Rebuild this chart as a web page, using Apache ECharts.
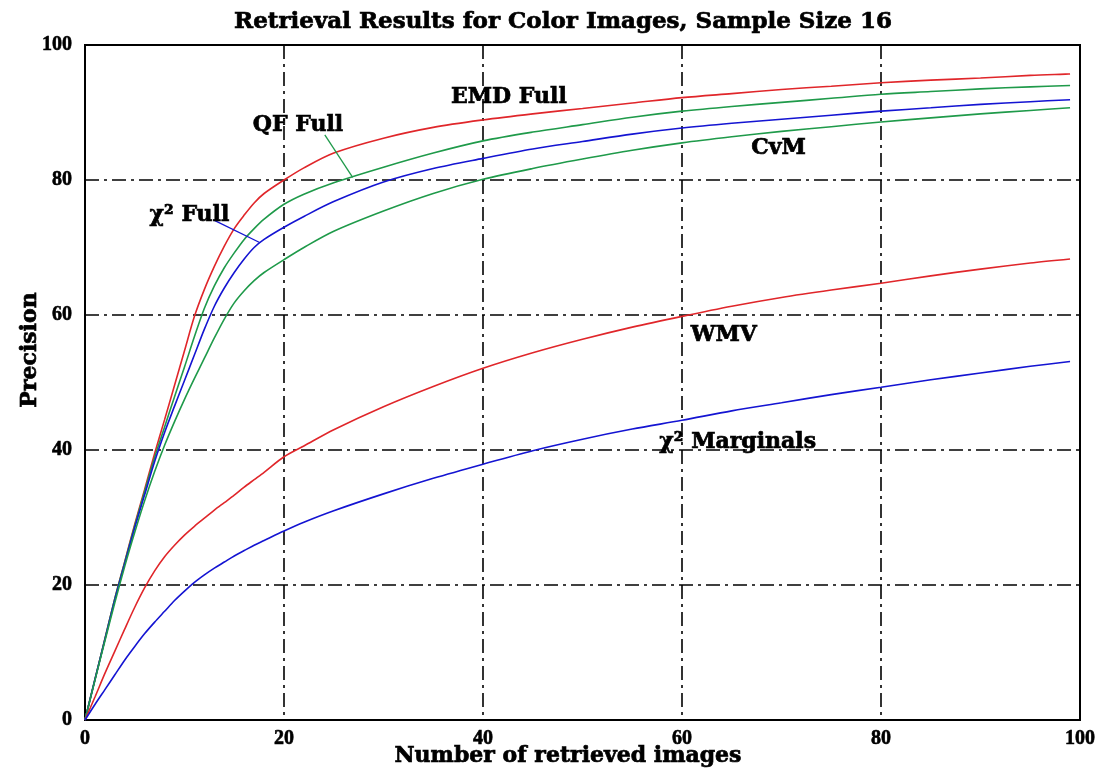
<!DOCTYPE html>
<html>
<head>
<meta charset="utf-8">
<script src="https://cdn.jsdelivr.net/npm/echarts@6/dist/echarts.min.js"></script>
<style>
  html, body { margin: 0; padding: 0; background: #fff; }
  #chart { width: 1104px; height: 779px; }
</style>
</head>
<body>
<div id="chart"></div>
<script>
// Number of retrieved images (x) shared by all curves
const retrieved = [0,1,2,3,4,5,6,7,8,9,10,11,12,13,14,15,16,17,18,20,22,25,30,35,40,45,50,55,60,65,70,75,80,85,90,95,99];

// Precision values per method
const emdFull = [0,6,12,18,23.5,29,34.2,39.5,44.5,49.6,54.7,59.8,63.8,67.2,70.2,72.8,74.8,76.6,78,80,81.8,84,86.2,87.8,88.9,89.8,90.6,91.4,92.2,92.8,93.4,93.9,94.4,94.8,95.1,95.5,95.7];
const qfFull  = [0,6,12,18,23.4,28.8,33.9,38.9,43.4,47.9,52.3,56.8,61,64.3,67,69.2,71.2,72.8,74.2,76.4,77.9,79.6,81.9,84,85.8,87.1,88.2,89.3,90.2,90.9,91.5,92.1,92.7,93.1,93.5,93.8,94];
const chiFull = [0,6,11.9,17.8,23.2,28.5,33.4,38.3,42.6,46.5,50.3,54.1,57.9,61.3,64,66.3,68.3,70,71.2,73,74.6,76.8,79.7,81.7,83.2,84.6,85.7,86.8,87.7,88.4,89,89.6,90.2,90.7,91.2,91.6,91.9];
const cvm     = [0,5.9,11.7,17.4,22.8,27.8,32.5,36.8,40.7,44.2,47.5,50.6,53.6,56.6,59.4,61.8,63.6,65.1,66.3,68.2,70,72.4,75.4,78,80.1,81.7,83.1,84.4,85.5,86.4,87.2,87.9,88.6,89.2,89.8,90.3,90.7];
const wmv     = [0,3.4,6.9,10.2,13.5,16.7,19.6,22.1,24.2,25.9,27.4,28.7,29.9,31.1,32.2,33.3,34.5,35.6,36.7,39,40.6,43,46.4,49.4,52.1,54.4,56.4,58.2,59.8,61.3,62.6,63.7,64.7,65.8,66.8,67.7,68.3];
const chiMarg = [0,2.3,4.5,6.7,8.9,10.9,12.8,14.5,16.1,17.7,19.1,20.4,21.5,22.5,23.4,24.3,25.1,25.9,26.6,28,29.3,31,33.5,35.8,37.9,39.9,41.6,43.1,44.4,45.8,47,48.2,49.3,50.4,51.4,52.4,53.1];

// Tick values
const xTicks = [0,20,40,60,80,100];
const yTicks = [0,20,40,60,80,100];

// Curve names written on the plot, anchored in data coordinates
const curveLabels = [
  { text: 'EMD Full',      at: [42.6, 92.3] },
  { text: 'QF Full',       at: [21.4, 88.1] },
  { text: 'χ² Full',       at: [10.5, 74.8] },
  { text: 'CvM',           at: [69.7, 84.7] },
  { text: 'WMV',           at: [64.2, 57.0] },
  { text: 'χ² Marginals',  at: [65.6, 41.2] }
];
// Leader lines from labels to curves (data coordinates)
const leaderQF  = [[24.1, 86.7], [26.9, 80.4]];
const leaderChi = [[12.9, 74.1], [17.6, 70.7]];

const RED = '#e0262a', GREEN = '#1f9a4a', BLUE = '#1414d2';
const SERIF = '"Liberation Serif", "DejaVu Serif", serif';
const WIDE = '"DejaVu Serif", "Liberation Serif", serif';

function pairs(ys) { return retrieved.map((x, i) => [x, ys[i]]); }

const chart = echarts.init(document.getElementById('chart'), null, { renderer: 'canvas' });

function lineSeries(name, ys, color, leader) {
  const s = {
    name, type: 'line', data: pairs(ys), showSymbol: false, smooth: 0.3,
    lineStyle: { color, width: 1.6 }, itemStyle: { color }, z: 3, animation: false
  };
  if (leader) {
    s.markLine = {
      symbol: ['none', 'none'], silent: true, animation: false,
      label: { show: false },
      lineStyle: { color, width: 1.3, type: 'solid' },
      data: [[{ coord: leader[0] }, { coord: leader[1] }]]
    };
  }
  return s;
}

const gridDash = [14, 5, 3, 5];
const tickLabel = {
  fontFamily: SERIF, fontWeight: 'bold', fontSize: 20, color: '#000',
  textBorderColor: '#000', textBorderWidth: 0.6
};

chart.setOption({
  animation: false,
  backgroundColor: '#fff',
  grid: {
    left: 85, right: 24, top: 45, bottom: 59,
    show: true, borderColor: '#000', borderWidth: 2
  },
  xAxis: {
    type: 'value', min: 0, max: 100, interval: 20,
    axisLine: { lineStyle: { color: '#000', width: 2 } },
    axisTick: { show: false },
    axisLabel: Object.assign({ margin: 9, formatter: v => xTicks.includes(v) ? String(v) : '' }, tickLabel),
    splitLine: { show: true, lineStyle: { color: '#000', width: 1.6, type: gridDash } }
  },
  yAxis: {
    type: 'value', min: 0, max: 100, interval: 20,
    axisLine: { lineStyle: { color: '#000', width: 2 } },
    axisTick: { show: false },
    axisLabel: Object.assign({ margin: 13, formatter: v => yTicks.includes(v) ? String(v) : '' }, tickLabel),
    splitLine: { show: true, lineStyle: { color: '#000', width: 1.6, type: gridDash } }
  },
  series: [
    lineSeries('EMD Full', emdFull, RED),
    lineSeries('QF Full', qfFull, GREEN, leaderQF),
    lineSeries('χ² Full', chiFull, BLUE, leaderChi),
    lineSeries('CvM', cvm, GREEN),
    lineSeries('WMV', wmv, RED),
    lineSeries('χ² Marginals', chiMarg, BLUE)
  ]
});

// Title, axis names and curve names
function textEl(text, x, y, size, extra) {
  return Object.assign({
    type: 'text', x, y, z: 10,
    style: { text, fill: '#000', stroke: '#000', lineWidth: 0.7,
      align: 'center', verticalAlign: 'middle', font: 'bold ' + size + 'px ' + WIDE }
  }, extra || {});
}
const texts = [
  textEl('Retrieval Results for Color Images, Sample Size 16', 563, 22, 23),
  textEl('Number of retrieved images', 568, 756, 22),
  textEl('Precision', 30, 350, 22, { rotation: Math.PI / 2 })
];
curveLabels.forEach(l => {
  const p = chart.convertToPixel({ gridIndex: 0 }, l.at);
  texts.push(textEl(l.text, p[0], p[1], 22));
});
chart.setOption({ graphic: texts });
</script>
</body>
</html>
